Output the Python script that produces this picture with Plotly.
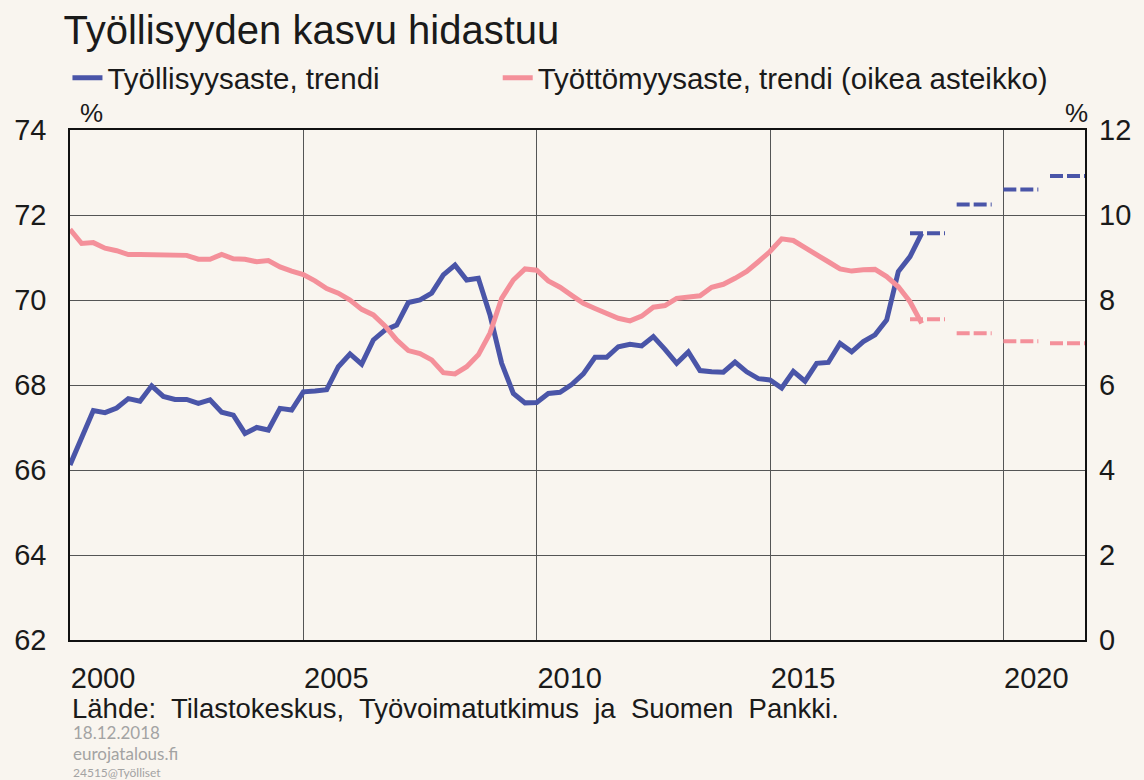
import plotly.graph_objects as go

# quarterly trend series, 2000Q1 .. 2018Q2
start_year = 2000
employment = [
    66.12, 66.78, 67.40, 67.35, 67.46, 67.68, 67.62, 67.98, 67.73, 67.66,
    67.66, 67.57, 67.65, 67.36, 67.29, 66.86, 67.00, 66.94, 67.45, 67.41,
    67.84, 67.86, 67.89, 68.43, 68.73, 68.49, 69.06, 69.29, 69.41, 69.94,
    70.00, 70.16, 70.59, 70.82, 70.47, 70.51, 69.65, 68.51, 67.80, 67.58,
    67.59, 67.80, 67.83, 68.01, 68.26, 68.65, 68.65, 68.90, 68.96, 68.92,
    69.14, 68.84, 68.51, 68.78, 68.34, 68.31, 68.30, 68.54, 68.31, 68.15,
    68.12, 67.93, 68.32, 68.09, 68.51, 68.53, 68.98, 68.78, 69.02, 69.18,
    69.53, 70.67, 71.02, 71.57,
]
unemployment = [
    9.66, 9.33, 9.35, 9.22, 9.16, 9.07, 9.07, 9.07, 9.07, 9.07,
    9.05, 8.96, 8.96, 9.07, 8.97, 8.96, 8.90, 8.93, 8.78, 8.68,
    8.60, 8.45, 8.27, 8.16, 8.00, 7.78, 7.65, 7.39, 7.06, 6.81,
    6.74, 6.59, 6.29, 6.26, 6.43, 6.71, 7.22, 8.04, 8.47, 8.73,
    8.70, 8.45, 8.30, 8.11, 7.92, 7.80, 7.67, 7.57, 7.51, 7.62,
    7.83, 7.87, 8.04, 8.08, 8.10, 8.30, 8.37, 8.51, 8.67, 8.90,
    9.14, 9.44, 9.40, 9.23, 9.08, 8.90, 8.73, 8.68, 8.71, 8.72,
    8.55, 8.31, 7.96, 7.45,
]

# annual forecasts (Suomen Pankki)
forecast_years = [2018, 2019, 2020, 2021]
employment_fc = [71.57, 72.25, 72.60, 72.92]
unemployment_fc = [7.55, 7.22, 7.03, 6.98]

x_tick_years = [2000, 2005, 2010, 2015, 2020]

BLUE = '#4a55a8'
PINK = '#f4909a'
BG = '#f9f5ef'
TXT = '#1a1a1a'
GREY = '#a3a3a3'
FONT = 'Liberation Sans, Arial, sans-serif'
SMALL = 'Lato, Open Sans, sans-serif'

quarters = [start_year + i / 4 for i in range(len(employment))]


def annual_steps(years, values):
    # one horizontal segment per forecast year, Q1..Q4
    xs, ys = [], []
    for yr, v in zip(years, values):
        xs += [yr, yr + 0.75, None]
        ys += [v, v, None]
    return xs, ys


fig = go.Figure()

fig.add_trace(go.Scatter(
    x=quarters, y=employment, name='Työllisyysaste, trendi',
    mode='lines', line=dict(color=BLUE, width=5), legend='legend',
))
fig.add_trace(go.Scatter(
    x=quarters, y=unemployment, name='Työttömyysaste, trendi (oikea asteikko)',
    mode='lines', line=dict(color=PINK, width=5), yaxis='y2', legend='legend2',
))

fx, fy = annual_steps(forecast_years, employment_fc)
fig.add_trace(go.Scatter(
    x=fx, y=fy, mode='lines', showlegend=False,
    line=dict(color=BLUE, width=4, dash='13px,4px'),
))
fx, fy = annual_steps(forecast_years, unemployment_fc)
fig.add_trace(go.Scatter(
    x=fx, y=fy, mode='lines', showlegend=False, yaxis='y2',
    line=dict(color=PINK, width=4, dash='13px,4px'),
))

legend_common = dict(orientation='h', y=1.102, yanchor='middle',
                     bgcolor='rgba(0,0,0,0)', font=dict(size=29.5), itemwidth=30)

fig.update_layout(
    width=1144, height=780,
    margin=dict(l=70, r=59, t=130, b=140, autoexpand=False),
    paper_bgcolor=BG, plot_bgcolor=BG,
    font=dict(family=FONT, color=TXT, size=29),
    title=dict(text='Työllisyyden kasvu hidastuu', x=0.0555, xanchor='left',
               y=0.961, yanchor='middle', font=dict(size=40, color=TXT)),
    showlegend=True,
    legend=dict(x=-0.0025, xanchor='left', **legend_common),
    legend2=dict(x=0.4214, xanchor='left', **legend_common),
    hovermode=False,
    xaxis=dict(
        range=[2000, 2021.75], tickvals=x_tick_years,
        ticktext=[str(y) for y in x_tick_years], ticklabelshift=33,
        ticklabelstandoff=11, automargin=False,
        showgrid=True, gridcolor='#555555', gridwidth=1,
        showline=True, mirror=True, linecolor='#111111', linewidth=1.5,
        ticks='', zeroline=False,
    ),
    yaxis=dict(
        range=[62, 74], dtick=2, showgrid=True, gridcolor='#555555', gridwidth=1,
        showline=True, mirror=True, linecolor='#111111', linewidth=1.5,
        ticks='', zeroline=False, ticklabelstandoff=16, automargin=False,
    ),
    yaxis2=dict(
        range=[0, 12], dtick=2, overlaying='y', side='right', showgrid=False,
        ticks='', zeroline=False, ticklabelstandoff=13, automargin=False,
    ),
    annotations=[
        dict(text='%', xref='paper', yref='paper', x=0.021, y=1.033,
             xanchor='center', yanchor='middle', showarrow=False, font=dict(size=26)),
        dict(text='%', xref='paper', yref='paper', x=0.992, y=1.033,
             xanchor='center', yanchor='middle', showarrow=False, font=dict(size=26)),
        dict(text='Lähde:  Tilastokeskus,  Työvoimatutkimus  ja  Suomen  Pankki.',
             xref='paper', yref='paper', x=0, xanchor='left', y=-0.134,
             yanchor='middle', showarrow=False, font=dict(size=27.5)),
        dict(text='18.12.2018', xref='paper', yref='paper', x=0.001, xanchor='left',
             y=-0.182, yanchor='middle', showarrow=False,
             font=dict(size=17, color=GREY, family=SMALL)),
        dict(text='eurojatalous.fi', xref='paper', yref='paper', x=0.001, xanchor='left',
             y=-0.223, yanchor='middle', showarrow=False,
             font=dict(size=17, color=GREY, family=SMALL)),
        dict(text='24515@Työlliset', xref='paper', yref='paper', x=0.001, xanchor='left',
             y=-0.259, yanchor='middle', showarrow=False,
             font=dict(size=12, color=GREY, family=SMALL)),
    ],
)

# drop the default page margin so the figure sits at the window's top-left corner
fig.write_html('out.html', config={'displayModeBar': False},
               post_script="document.body.style.margin='0';")
